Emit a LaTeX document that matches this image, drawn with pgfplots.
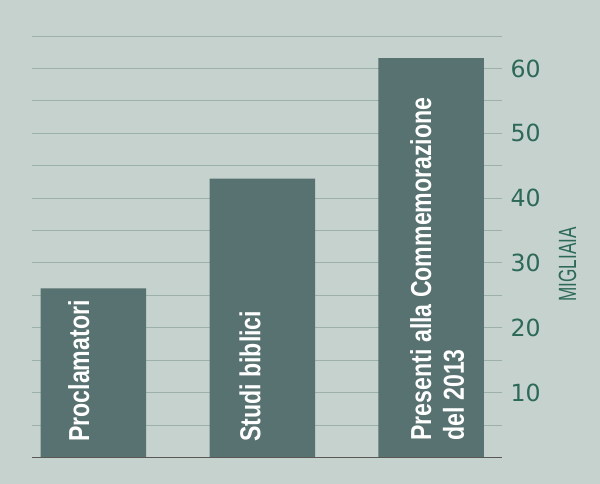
\documentclass[border=0pt]{standalone}
\usepackage{pgfplots}
\pgfplotsset{compat=1.18}
\usepackage{fontspec}
\setmainfont{Liberation Sans}
\newfontfamily\barfont[FakeStretch=0.8]{Liberation Sans Bold}
\newfontfamily\tickfont{DejaVu Sans}
\newfontfamily\unitfont[FakeStretch=0.69]{Liberation Sans}
\newcommand\barlab{\fontsize{29}{33}\selectfont\barfont}

\definecolor{bg}{RGB}{198,210,205}
\definecolor{barc}{RGB}{87,114,112}
\definecolor{gridc}{RGB}{156,177,170}
\definecolor{txtgreen}{RGB}{45,105,88}
\definecolor{basec}{RGB}{90,88,84}

\begin{document}
\begin{tikzpicture}
\fill[bg] (-32bp,-26.5bp) rectangle (568bp,457.5bp);
\begin{axis}[
	scale only axis,
	width=470bp, height=421.5bp,
	xmin=-0.364, xmax=2.419,
	ymin=0, ymax=65,
	clip=false,
	axis x line*=bottom, axis y line*=right,
	x axis line style={draw=none},
	y axis line style={draw=none},
	xtick=\empty,
	ytick={5,10,...,65},
	yticklabels={{},10,{},20,{},30,{},40,{},50,{},60,{}},
	major tick length=0pt,
	ymajorgrids,
	grid style={draw=gridc, line width=1bp},
	yticklabel style={font=\fontsize{23.7}{28}\selectfont\tickfont, text=txtgreen,
		anchor=west, inner sep=0pt, xshift=8.5bp},
	]

\addplot [ybar, bar width=105.5bp, fill=barc, draw=none]
	coordinates {(0,26.1) (1,43.0) (2,61.6)};

% baseline over the bar feet
\draw [basec, line width=1.6bp] (rel axis cs:0,0) -- (rel axis cs:1,0);

% labels inside the bars
\node [rotate=90, anchor=north west, inner sep=0pt, font=\barlab, text=white]
	at ([xshift=-25.5bp]axis cs:0,2.4) {Proclamatori};
\node [rotate=90, anchor=north west, inner sep=0pt, font=\barlab, text=white]
	at ([xshift=-23bp]axis cs:1,2.4) {Studi biblici};
\node [rotate=90, anchor=north west, inner sep=0pt, font=\barlab, text=white, align=left]
	at ([xshift=-21.3bp]axis cs:2,2.6) {Presenti alla Commemorazione\\del 2013};

% unit
\node [rotate=90, inner sep=0pt, font=\fontsize{25}{30}\selectfont\unitfont, text=txtgreen]
	at ([xshift=65.5bp]rel axis cs:1,0.458) {MIGLIAIA};
\end{axis}
\pgfresetboundingbox
\useasboundingbox (-32bp,-26.5bp) rectangle (568bp,457.5bp);
\end{tikzpicture}
\end{document}
